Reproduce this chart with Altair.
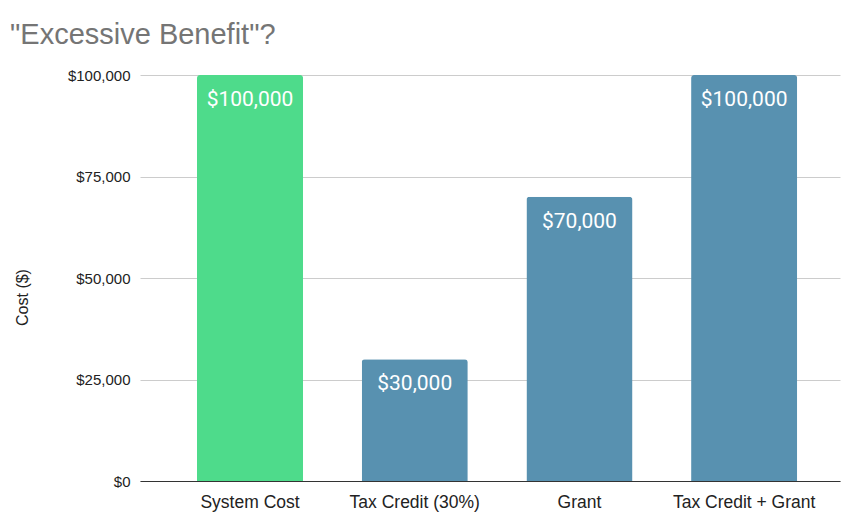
import altair as alt
import pandas as pd

categories = ["System Cost", "Tax Credit (30%)", "Grant", "Tax Credit + Grant"]
values = [100000, 30000, 70000, 100000]
colors = ["#4edb8b", "#5891b0", "#5891b0", "#5891b0"]
labels = ["$100,000", "$30,000", "$70,000", "$100,000"]

df = pd.DataFrame({"cat": categories, "val": values, "color": colors, "label": labels})

x = alt.X("cat:N", sort=categories, title=None,
          scale=alt.Scale(paddingInner=0.356, paddingOuter=0.303, align=0.571),
          axis=alt.Axis(labelAngle=0, labelFont="Liberation Sans", labelFontSize=17.5,
                        labelColor="#222222", ticks=False, domainColor="#333333",
                        labelPadding=12))
y = alt.Y("val:Q", title="Cost ($)",
          scale=alt.Scale(domain=[0, 100000]),
          axis=alt.Axis(values=[0, 25000, 50000, 75000, 100000], format="$,.0f",
                        labelFont="Liberation Sans", labelFontSize=15, labelColor="#222222",
                        ticks=False, domain=False, gridColor="#cccccc", labelPadding=10,
                        titleFont="Liberation Sans", titleFontSize=16, titleFontWeight="normal",
                        titleColor="#222222", titlePadding=37, titleY=222))

bars = alt.Chart(df).mark_bar(cornerRadiusTopLeft=3, cornerRadiusTopRight=3).encode(
    x=x, y=y, color=alt.Color("color:N", scale=None))
text = alt.Chart(df).mark_text(baseline="top", dy=14, color="white", font="Roboto",
                               fontSize=21).encode(
    x=alt.X("cat:N", sort=categories), y="val:Q", text="label:N")

chart = (bars + text).properties(
    width=700, height=406,
    title=alt.TitleParams('"Excessive Benefit"?', anchor="start", frame="group",
                          font="Liberation Sans", fontSize=29, fontWeight="normal",
                          color="#757575", dx=-130, offset=-5, baseline="alphabetic"),
    autosize=alt.AutoSizeParams(type="none"),
    padding={"left": 132, "top": 67, "right": 10, "bottom": 40},
).configure_view(stroke=None)

chart.save("out.html", embed_options={"renderer": "svg", "actions": False})
